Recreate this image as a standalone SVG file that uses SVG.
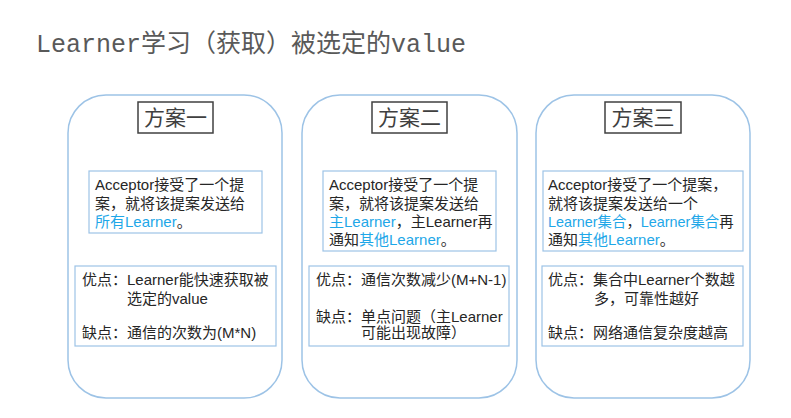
<svg xmlns="http://www.w3.org/2000/svg" width="791" height="418" viewBox="0 0 791 418">
<style>
.outer{fill:#fff;stroke:#9dc3e6;stroke-width:1.5}
.head{fill:#fff;stroke:#404040;stroke-width:1.5}
.tb{fill:#fff;stroke:#9dc3e6;stroke-width:1.2}
.ht{font-family:"Liberation Sans","Noto Sans CJK SC",sans-serif;font-size:21px;fill:#404040;text-anchor:middle}
.t{font-family:"Liberation Sans","Noto Sans CJK SC",sans-serif;font-size:15px;fill:#262626}
.b{fill:#1ea7e8}
.title{font-family:"Liberation Mono","Noto Sans CJK SC",monospace;font-size:25px;fill:#595959}
</style>
<rect width="791" height="418" fill="#fff"/>
<text class="title" x="36" y="52">Learner学习（获取）被选定的value</text>

<g id="plan1">
<rect class="outer" x="68" y="95" width="214" height="303" rx="38"/>
<rect class="head" x="138" y="102" width="75" height="31"/>
<text class="ht" x="175.5" y="125">方案一</text>
<rect class="tb" x="89" y="171" width="173" height="62"/>
<text class="t" x="95" y="190">Acceptor接受了一个提</text>
<text class="t" x="95" y="209">案，就将该提案发送给</text>
<text class="t" x="95" y="227"><tspan class="b">所有Learner</tspan>。</text>
<rect class="tb" x="75" y="266" width="201" height="80"/>
<text class="t" x="82" y="285">优点：Learner能快速获取被</text>
<text class="t" x="127" y="304">选定的value</text>
<text class="t" x="82" y="338">缺点：通信的次数为(M*N)</text>
</g>

<g id="plan2">
<rect class="outer" x="302" y="95" width="215" height="303" rx="38"/>
<rect class="head" x="372" y="102" width="75" height="31"/>
<text class="ht" x="409.5" y="125">方案二</text>
<rect class="tb" x="323" y="171" width="173" height="80"/>
<text class="t" x="329" y="190">Acceptor接受了一个提</text>
<text class="t" x="329" y="209">案，就将该提案发送给</text>
<text class="t" x="329" y="227"><tspan class="b">主Learner</tspan>，主Learner再</text>
<text class="t" x="329" y="245">通知<tspan class="b">其他Learner</tspan>。</text>
<rect class="tb" x="309" y="266" width="200" height="80"/>
<text class="t" x="316" y="285">优点：通信次数减少(M+N-1)</text>
<text class="t" x="316" y="322">缺点：单点问题（主Learner</text>
<text class="t" x="361" y="338">可能出现故障）</text>
</g>

<g id="plan3">
<rect class="outer" x="536" y="95" width="214" height="303" rx="38"/>
<rect class="head" x="605" y="102" width="76" height="31"/>
<text class="ht" x="643" y="125">方案三</text>
<rect class="tb" x="543" y="171" width="200" height="80"/>
<text class="t" x="548" y="190">Acceptor接受了一个提案，</text>
<text class="t" x="548" y="209">就将该提案发送给一个</text>
<text class="t" x="548" y="227" style="font-size:14.4px"><tspan class="b">Learner集合</tspan>，<tspan class="b">Learner集合</tspan>再</text>
<text class="t" x="548" y="245">通知<tspan class="b">其他Learner</tspan>。</text>
<rect class="tb" x="542" y="266" width="201" height="80"/>
<text class="t" x="548" y="285">优点：集合中Learner个数越</text>
<text class="t" x="594" y="304">多，可靠性越好</text>
<text class="t" x="548" y="338">缺点：网络通信复杂度越高</text>
</g>
<g id="connectors"/>
</svg>
